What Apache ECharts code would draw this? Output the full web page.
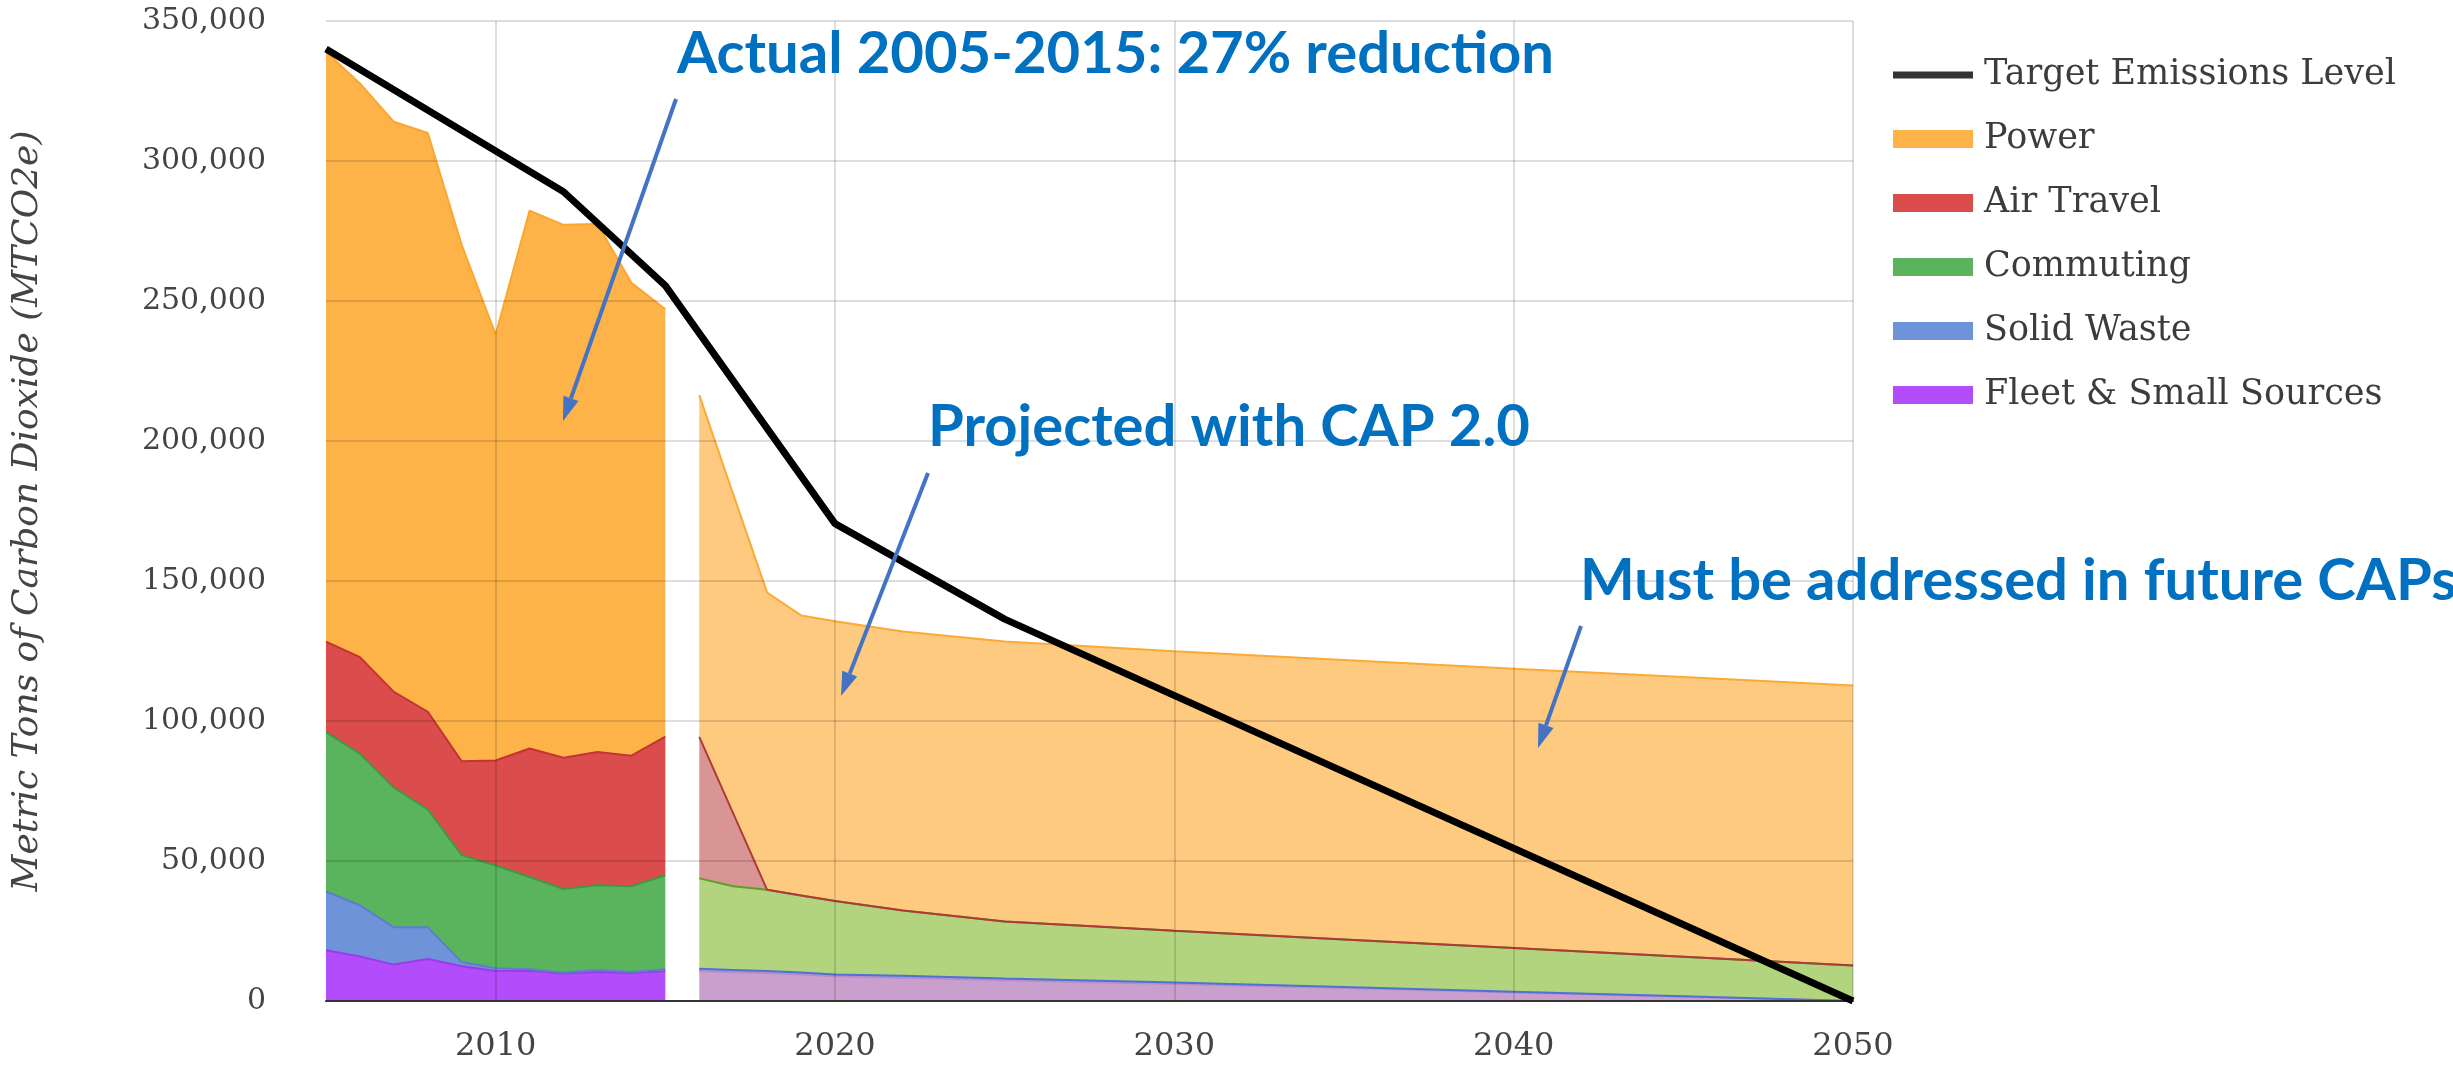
<!DOCTYPE html>
<html>
<head>
<meta charset="utf-8">
<script src="https://cdn.jsdelivr.net/npm/echarts@6/dist/echarts.min.js"></script>
<style>
  html, body { margin: 0; padding: 0; background: #fff; }
  #chart { width: 2453px; height: 1074px; }
</style>
</head>
<body>
<div id="chart"></div>
<script>
// actual inventory, 2005-2015
let actualYears = [2005, 2006, 2007, 2008, 2009, 2010, 2011, 2012, 2013, 2014, 2015];
let actualFleet = [18100, 15900, 13000, 15000, 12400, 10700, 10800, 9800, 10400, 10000, 10700];
let actualWaste = [21000, 18300, 13300, 11300, 1500, 1000, 500, 400, 700, 400, 600];
let actualCommute = [56900, 54100, 49900, 42100, 38200, 36700, 33000, 29800, 30200, 30600, 33600];
let actualAir = [32300, 34500, 34200, 34900, 33500, 37500, 45900, 46900, 47600, 46600, 49500];
let actualPower = [210700, 204900, 203600, 206700, 184400, 152100, 192100, 190300, 188600, 168900, 152600];

// projected with CAP 2.0, 2016-2050
let projYears = [2016, 2017, 2018, 2019, 2020, 2022, 2025, 2030, 2035, 2040, 2045, 2050];
let projFleet = [10700, 10300, 10000, 9500, 8800, 8300, 7400, 6100, 4600, 3000, 1500, 0];
let projWaste = [800, 800, 700, 700, 700, 700, 600, 500, 400, 300, 200, 0];
let projCommute = [32300, 29900, 29000, 27500, 26200, 23300, 20400, 18500, 17000, 15600, 14100, 12700];
let projAir = [50500, 26000, 0, 0, 0, 0, 0, 0, 0, 0, 0, 0];
let projPower = [122100, 114000, 106200, 100000, 99900, 99700, 100000, 99800, 99800, 99800, 99900, 100000];

// target emissions level
let targetYears = [2005, 2012, 2015, 2020, 2025, 2050];
let targetValues = [340000, 289000, 255500, 170500, 136400, 0];

let legendNames = ['Target Emissions Level', 'Power', 'Air Travel', 'Commuting', 'Solid Waste', 'Fleet & Small Sources'];

let serifFont = 'DejaVu Serif';
let noteFont = 'Lato';
let noteColor = '#0070c0';
let arrowColor = '#4472c4';

// value first, year second: echarts stacks the first numeric dimension,
// so keep the emissions in dim 0 and map the year to x via encode
function pairs(xs, ys) {
  return xs.map(function (x, i) { return [ys[i], x]; });
}

function areaSeries(name, stack, xs, ys, fill, edge) {
  return {
    name: name,
    type: 'line',
    stack: stack,
    data: pairs(xs, ys),
    encode: { x: 1, y: 0 },
    symbol: 'none',
    lineStyle: { color: edge, width: 2 },
    itemStyle: { color: fill },
    areaStyle: { color: fill, opacity: 1 },
    emphasis: { disabled: true },
    z: 2
  };
}

function arrow(x1, y1, x2, y2) {
  let ang = Math.atan2(y2 - y1, x2 - x1);
  let len = 24, half = 8;
  let bx = x2 - len * Math.cos(ang), by = y2 - len * Math.sin(ang);
  let px = -Math.sin(ang) * half, py = Math.cos(ang) * half;
  return [
    { type: 'line', z: 20, shape: { x1: x1, y1: y1, x2: bx, y2: by }, style: { stroke: arrowColor, lineWidth: 4 } },
    { type: 'polygon', z: 20, shape: { points: [[x2, y2], [bx + px, by + py], [bx - px, by - py]] }, style: { fill: arrowColor } }
  ];
}

function note(text, x, y) {
  return {
    type: 'text', z: 20, x: x, y: y,
    style: {
      text: text, fill: noteColor, fontFamily: noteFont, fontWeight: 'bold',
      fontSize: 58, verticalAlign: 'middle', align: 'left'
    }
  };
}

let chart = echarts.init(document.getElementById('chart'));

let series = [
  areaSeries('Fleet & Small Sources', 'actual', actualYears, actualFleet, '#b34cfb', '#9a3de6'),
  areaSeries('Solid Waste', 'actual', actualYears, actualWaste, '#6f93d9', '#5a7fd0'),
  areaSeries('Commuting', 'actual', actualYears, actualCommute, '#5ab45d', '#3f9a3f'),
  areaSeries('Air Travel', 'actual', actualYears, actualAir, '#db4c4c', '#c43434'),
  areaSeries('Power', 'actual', actualYears, actualPower, '#fdb348', '#fca62e'),

  areaSeries('Fleet (projected)', 'proj', projYears, projFleet, '#c9a0cd', '#b88cc8'),
  areaSeries('Solid Waste (projected)', 'proj', projYears, projWaste, '#7c9be0', '#4e73d4'),
  areaSeries('Commuting (projected)', 'proj', projYears, projCommute, '#b2d47e', '#5aa02c'),
  areaSeries('Air Travel (projected)', 'proj', projYears, projAir, '#d99494', '#b03a3a'),
  areaSeries('Power (projected)', 'proj', projYears, projPower, '#fdca7f', '#fca935'),

  {
    name: 'Target Emissions Level',
    type: 'line',
    data: pairs(targetYears, targetValues),
    encode: { x: 1, y: 0 },
    symbol: 'none',
    lineStyle: { color: '#000', width: 7 },
    itemStyle: { color: '#333' },
    emphasis: { disabled: true },
    z: 5
  }
];

let graphics = []
  .concat(arrow(676, 99, 563, 421))
  .concat(arrow(928, 473, 841, 696))
  .concat(arrow(1581, 626, 1538, 748))
  .concat([
    note('Actual 2005-2015: 27% reduction', 677, 54),
    note('Projected with CAP 2.0', 928, 427),
    note('Must be addressed in future CAPs', 1580, 581)
  ]);

let option = {
  animation: false,
  backgroundColor: '#fff',
  textStyle: { fontFamily: serifFont },
  grid: { left: 326, right: 600, top: 21, bottom: 73, containLabel: false },
  legend: {
    orient: 'vertical',
    left: 1888,
    top: 52,
    itemWidth: 80,
    itemHeight: 18,
    itemGap: 28,
    selectedMode: false,
    textStyle: { fontFamily: serifFont, fontSize: 35, color: '#3c3c3c', lineHeight: 36, padding: [0, 0, 0, 6] },
    data: [
      { name: legendNames[0], icon: 'path://M0,6 L80,6 L80,13 L0,13 Z', itemStyle: { color: '#333' } },
      { name: legendNames[1], icon: 'rect', itemStyle: { color: '#fdb348' } },
      { name: legendNames[2], icon: 'rect', itemStyle: { color: '#db4c4c' } },
      { name: legendNames[3], icon: 'rect', itemStyle: { color: '#5ab45d' } },
      { name: legendNames[4], icon: 'rect', itemStyle: { color: '#6f93d9' } },
      { name: legendNames[5], icon: 'rect', itemStyle: { color: '#b34cfb' } }
    ]
  },
  xAxis: {
    type: 'value',
    min: 2005,
    max: 2050,
    splitNumber: 5,
    z: 3,
    axisLine: { show: true, onZero: false, lineStyle: { color: '#333', width: 2 } },
    axisTick: { show: false },
    axisLabel: {
      showMinLabel: false, margin: 30, fontSize: 32, color: '#444', fontFamily: serifFont,
      formatter: function (v) { return String(v); }
    },
    splitLine: { show: true, showMinLine: false, lineStyle: { color: 'rgba(0,0,0,0.13)', width: 2 } }
  },
  yAxis: {
    type: 'value',
    min: 0,
    max: 350000,
    interval: 50000,
    z: 3,
    name: 'Metric Tons of Carbon Dioxide (MTCO2e)',
    nameLocation: 'middle',
    nameGap: 280,
    nameTextStyle: { fontFamily: serifFont, fontStyle: 'italic', fontSize: 36, color: '#444' },
    axisLine: { show: false },
    axisTick: { show: false },
    axisLabel: {
      margin: 60, fontSize: 30, color: '#444', fontFamily: serifFont,
      formatter: function (v) { return v.toLocaleString('en-US'); }
    },
    splitLine: { show: true, lineStyle: { color: 'rgba(0,0,0,0.13)', width: 2 } }
  },
  series: series,
  graphic: graphics
};

chart.setOption(option);
</script>
</body>
</html>
